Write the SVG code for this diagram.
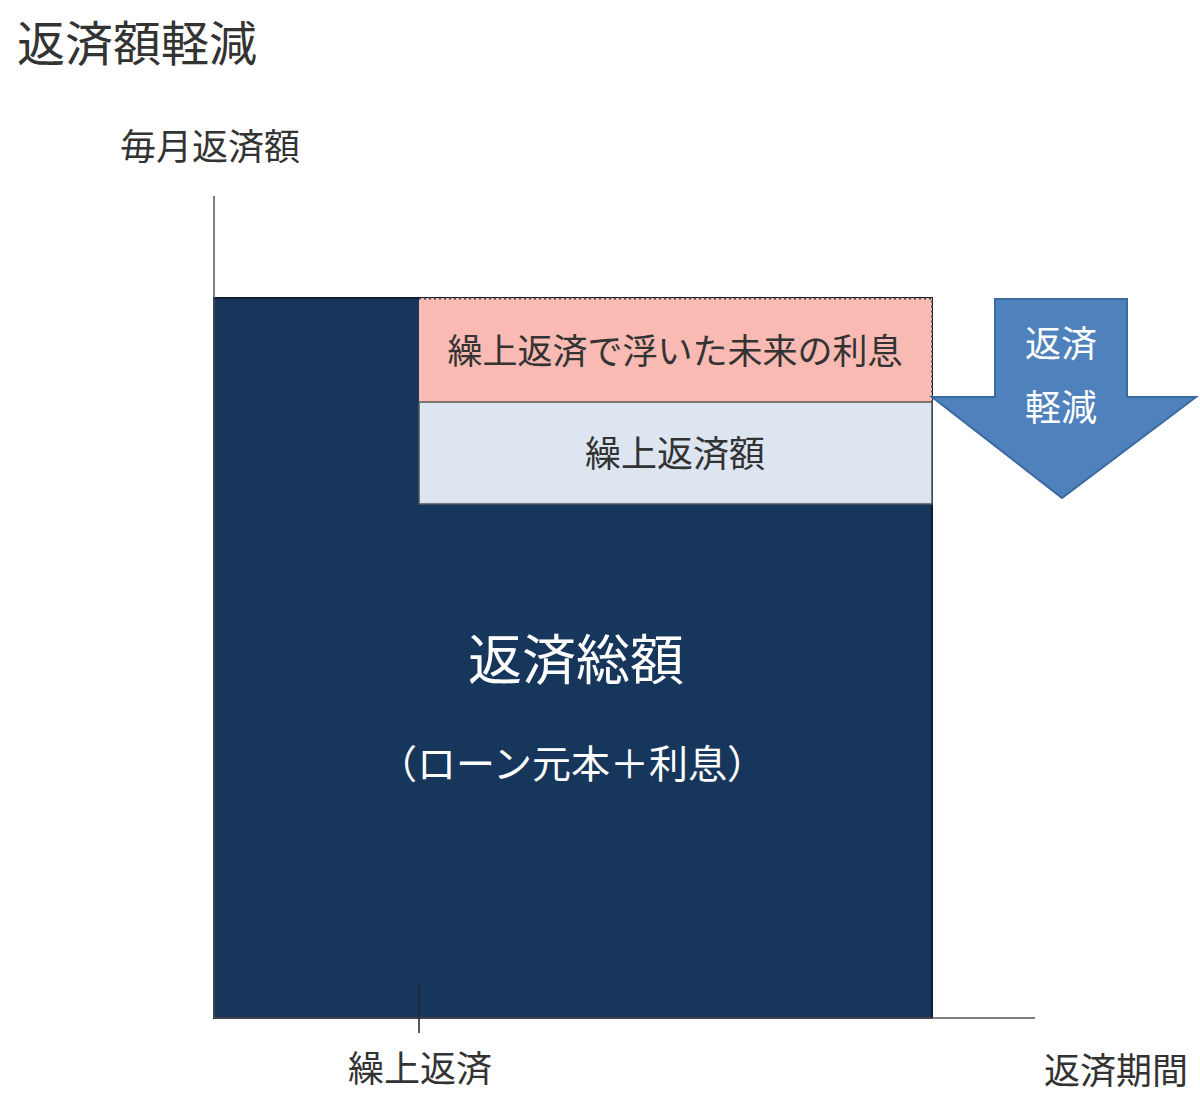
<svg xmlns="http://www.w3.org/2000/svg" width="1200" height="1107" viewBox="0 0 1200 1107">
<style>
text{font-family:"Noto Sans CJK JP","Noto Sans",sans-serif;}
.dk{fill:#333333;}
.wt{fill:#ffffff;}
.ax{stroke:#555555;stroke-width:1.5;fill:none;}
</style>
<rect width="1200" height="1107" fill="#ffffff"/>
<g id="title"><text class="dk" x="17" y="61" font-size="48">返済額軽減</text></g>
<g id="y-label"><text class="dk" x="120" y="160" font-size="36">毎月返済額</text></g>
<g id="total">
<rect x="214" y="298" width="718" height="720" fill="#17365c" stroke="#0f1f33" stroke-width="2"/>
<text class="wt" x="576" y="680" font-size="54" text-anchor="middle">返済総額</text>
<text class="wt" x="572" y="778" font-size="39" text-anchor="middle">（ローン元本＋利息）</text>
</g>
<g id="interest">
<rect x="419" y="298" width="513" height="104" fill="#f8bab2"/>
<path d="M419 298.5H932V402" stroke="#444" stroke-width="2" stroke-dasharray="2 3" fill="none"/>
<text class="dk" x="675" y="364" font-size="35" text-anchor="middle">繰上返済で浮いた未来の利息</text>
</g>
<g id="prepay">
<rect x="419" y="402" width="513" height="102" fill="#dce5f0" stroke="#555" stroke-width="1.5"/>
<text class="dk" x="675" y="467" font-size="36" text-anchor="middle">繰上返済額</text>
</g>
<g id="arrow">
<polygon points="995,299 1127,299 1127,397 1196,397 1062,498 932,397 995,397" fill="#4f81bd" stroke="#3a6aa0" stroke-width="2"/>
<text class="wt" x="1061" y="357" font-size="36" text-anchor="middle">返済</text>
<text class="wt" x="1061" y="421" font-size="36" text-anchor="middle">軽減</text>
</g>
<g id="connectors">
<line class="ax" x1="214" y1="196" x2="214" y2="1018"/>
<line class="ax" x1="214" y1="1018" x2="1035" y2="1018"/>
<line x1="419" y1="983" x2="419" y2="1033" stroke="#222" stroke-width="1.5"/>
</g>
<g id="x-prepay"><text class="dk" x="420" y="1082" font-size="36" text-anchor="middle">繰上返済</text></g>
<g id="x-label"><text class="dk" x="1044" y="1084" font-size="36">返済期間</text></g>
</svg>
